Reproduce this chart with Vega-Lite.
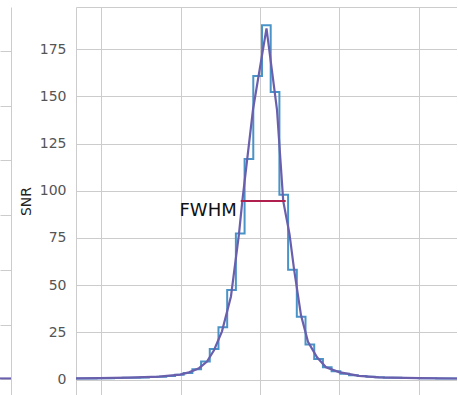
{
  "$schema": "https://vega.github.io/schema/vega-lite/v6.json",
  "padding": {"left": 0, "top": 7, "right": 0, "bottom": 0},
  "spacing": 8,
  "config": {
    "view": {"stroke": null},
    "font": "DejaVu Sans",
    "axis": {"gridColor": "#cccccc", "domainColor": "#cccccc", "gridWidth": 1, "domainWidth": 1, "ticks": false, "labelFont": "DejaVu Sans", "titleFont": "DejaVu Sans"}
  },
  "datasets": {
    "left": [{"x": 0, "y": 0.02}, {"x": 1, "y": 0.02}],
    "step": [
      {"x": -2.3882, "snr": 0.5}, {"x": -2.2785, "snr": 0.55}, {"x": -2.1688, "snr": 0.6}, {"x": -2.0591, "snr": 0.65},
      {"x": -1.9494, "snr": 0.7}, {"x": -1.8397, "snr": 0.8}, {"x": -1.73, "snr": 0.9}, {"x": -1.6203, "snr": 1.0},
      {"x": -1.5106, "snr": 1.1}, {"x": -1.4009, "snr": 1.3}, {"x": -1.2912, "snr": 1.5}, {"x": -1.1815, "snr": 1.9},
      {"x": -1.0718, "snr": 2.5}, {"x": -0.9621, "snr": 3.5}, {"x": -0.8524, "snr": 5.5}, {"x": -0.7427, "snr": 9.5},
      {"x": -0.633, "snr": 16.2}, {"x": -0.5233, "snr": 27.7}, {"x": -0.4136, "snr": 47.4}, {"x": -0.3039, "snr": 77.4},
      {"x": -0.1942, "snr": 116.8}, {"x": -0.0845, "snr": 160.8}, {"x": 0.0252, "snr": 187.7}, {"x": 0.1349, "snr": 152.3},
      {"x": 0.2446, "snr": 97.8}, {"x": 0.3543, "snr": 58.2}, {"x": 0.464, "snr": 33.3}, {"x": 0.5737, "snr": 18.5},
      {"x": 0.6834, "snr": 10.9}, {"x": 0.7931, "snr": 6.5}, {"x": 0.9028, "snr": 4.4}, {"x": 1.0125, "snr": 3.1},
      {"x": 1.1222, "snr": 2.3}, {"x": 1.2319, "snr": 1.8}, {"x": 1.3416, "snr": 1.4}, {"x": 1.4513, "snr": 1.15},
      {"x": 1.561, "snr": 1.0}, {"x": 1.6707, "snr": 0.9}, {"x": 1.7804, "snr": 0.8}, {"x": 1.8901, "snr": 0.75},
      {"x": 1.9998, "snr": 0.7}, {"x": 2.1095, "snr": 0.65}, {"x": 2.2192, "snr": 0.6}, {"x": 2.3289, "snr": 0.55},
      {"x": 2.4386, "snr": 0.5}, {"x": 2.5483, "snr": 0.5}
    ],
    "fit": [
      {"x": -2.319, "snr": 0.6}, {"x": -2.029, "snr": 0.75}, {"x": -1.651, "snr": 1.0}, {"x": -1.273, "snr": 1.5},
      {"x": -1.008, "snr": 2.6}, {"x": -0.895, "snr": 3.8}, {"x": -0.769, "snr": 6.0}, {"x": -0.668, "snr": 9.5},
      {"x": -0.58, "snr": 15.5}, {"x": -0.479, "snr": 25.5}, {"x": -0.366, "snr": 44}, {"x": -0.265, "snr": 77},
      {"x": -0.223, "snr": 94.5}, {"x": -0.088, "snr": 143}, {"x": 0.082, "snr": 186}, {"x": 0.214, "snr": 143},
      {"x": 0.293, "snr": 94.5}, {"x": 0.372, "snr": 77}, {"x": 0.429, "snr": 58.5}, {"x": 0.517, "snr": 34},
      {"x": 0.605, "snr": 20}, {"x": 0.719, "snr": 11.8}, {"x": 0.832, "snr": 6.5}, {"x": 0.996, "snr": 3.9},
      {"x": 1.248, "snr": 1.9}, {"x": 1.5, "snr": 1.1}, {"x": 2.004, "snr": 0.7}, {"x": 2.483, "snr": 0.55}
    ],
    "fwhm": [{"x": -0.243, "x2": 0.324, "snr": 94.5, "label": "FWHM"}]
  },
  "hconcat": [
    {
      "width": 11,
      "height": 388,
      "data": {"name": "left"},
      "mark": {"type": "line", "color": "#6a5fad", "strokeWidth": 2, "clip": true},
      "encoding": {
        "x": {"field": "x", "type": "quantitative", "scale": {"domain": [0, 1], "nice": false}, "axis": null},
        "y": {"field": "y", "type": "quantitative", "scale": {"domain": [-0.283, 6.8], "nice": false, "zero": false},
              "axis": {"orient": "right", "values": [0, 1, 2, 3, 4, 5, 6], "labels": false, "title": null, "domain": true, "grid": true}}
      }
    },
    {
      "width": 381,
      "height": 388,
      "layer": [
        {
          "data": {"name": "step"},
          "mark": {"type": "line", "interpolate": "step-after", "color": "#4a93c6", "strokeWidth": 2, "clip": true},
          "encoding": {
            "x": {"field": "x", "type": "quantitative", "scale": {"domain": [-2.319, 2.483], "nice": false, "zero": false},
                  "axis": {"orient": "top", "values": [-2, -1, 0, 1, 2], "labels": false, "title": null, "domain": true, "grid": true}},
            "y": {"field": "snr", "type": "quantitative", "scale": {"domain": [-8.2, 197.3], "nice": false, "zero": false},
                  "axis": {"orient": "left", "values": [0, 25, 50, 75, 100, 125, 150, 175], "title": "SNR", "labelFontSize": 14, "titleFontSize": 14,
                           "labelPadding": 10, "titlePadding": 6, "labelColor": "#555555", "titleColor": "#222222", "titleFontWeight": "normal", "domain": true, "grid": true}}
          }
        },
        {
          "data": {"name": "fit"},
          "mark": {"type": "line", "color": "#6a5fad", "strokeWidth": 2.2, "clip": true},
          "encoding": {
            "x": {"field": "x", "type": "quantitative"},
            "y": {"field": "snr", "type": "quantitative"}
          }
        },
        {
          "data": {"name": "fwhm"},
          "mark": {"type": "rule", "color": "#b0204e", "strokeWidth": 2},
          "encoding": {
            "x": {"field": "x", "type": "quantitative"},
            "x2": {"field": "x2"},
            "y": {"field": "snr", "type": "quantitative"}
          }
        },
        {
          "data": {"name": "fwhm"},
          "mark": {"type": "text", "align": "right", "baseline": "top", "dx": -4, "dy": 1, "fontSize": 18, "color": "#111111", "font": "DejaVu Sans"},
          "encoding": {
            "x": {"field": "x", "type": "quantitative"},
            "y": {"field": "snr", "type": "quantitative"},
            "text": {"field": "label"}
          }
        }
      ]
    }
  ]
}
